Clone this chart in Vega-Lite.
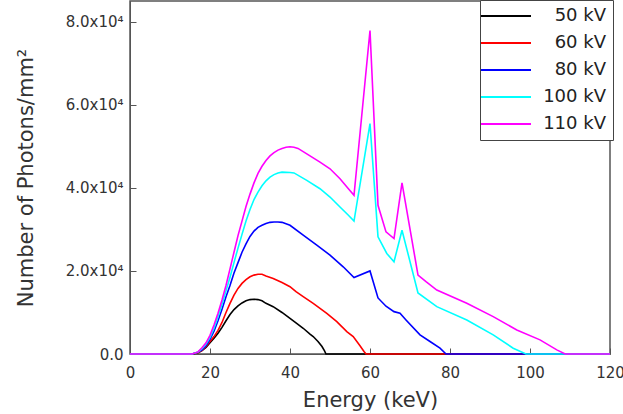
{
  "$schema": "https://vega.github.io/schema/vega-lite/v6.json",
  "width": 480,
  "height": 353,
  "autosize": "none",
  "padding": {"left": 130, "top": 1, "right": 13, "bottom": 60},
  "config": {
    "font": "DejaVu Sans",
    "view": {"stroke": "#555", "strokeWidth": 1.5},
    "axis": {"grid": false, "domainColor": "#555", "tickColor": "#555", "labelColor": "#333", "titleColor": "#333", "titleFontWeight": "normal", "labelFont": "DejaVu Sans", "titleFont": "DejaVu Sans"}
  },
  "data": {
    "values": [
      {"s":"50 kV","E":0,"N":0},{"s":"50 kV","E":15.5,"N":0},{"s":"50 kV","E":17,"N":300},{"s":"50 kV","E":18,"N":800},{"s":"50 kV","E":19,"N":1600},{"s":"50 kV","E":20,"N":2700},{"s":"50 kV","E":21,"N":3800},{"s":"50 kV","E":22,"N":5000},{"s":"50 kV","E":23,"N":6400},{"s":"50 kV","E":24,"N":8000},{"s":"50 kV","E":25,"N":9500},{"s":"50 kV","E":26,"N":10700},{"s":"50 kV","E":27,"N":11600},{"s":"50 kV","E":28,"N":12300},{"s":"50 kV","E":29,"N":12800},{"s":"50 kV","E":30,"N":13100},{"s":"50 kV","E":31,"N":13200},{"s":"50 kV","E":32,"N":13100},{"s":"50 kV","E":33,"N":12800},{"s":"50 kV","E":34,"N":12200},{"s":"50 kV","E":35.8,"N":11400},{"s":"50 kV","E":38,"N":10000},{"s":"50 kV","E":40,"N":8600},{"s":"50 kV","E":41.5,"N":7500},{"s":"50 kV","E":43.3,"N":6200},{"s":"50 kV","E":45,"N":4800},{"s":"50 kV","E":45.8,"N":4200},{"s":"50 kV","E":47,"N":3000},{"s":"50 kV","E":48,"N":1800},{"s":"50 kV","E":48.6,"N":800},{"s":"50 kV","E":49,"N":0},{"s":"50 kV","E":120,"N":0},
      {"s":"60 kV","E":0,"N":0},{"s":"60 kV","E":15.5,"N":0},{"s":"60 kV","E":17,"N":300},{"s":"60 kV","E":18,"N":900},{"s":"60 kV","E":19,"N":1800},{"s":"60 kV","E":20,"N":3000},{"s":"60 kV","E":21,"N":4200},{"s":"60 kV","E":22,"N":5700},{"s":"60 kV","E":23,"N":7600},{"s":"60 kV","E":24,"N":10000},{"s":"60 kV","E":25,"N":12200},{"s":"60 kV","E":26,"N":14200},{"s":"60 kV","E":27,"N":15800},{"s":"60 kV","E":28,"N":17000},{"s":"60 kV","E":29,"N":17900},{"s":"60 kV","E":30,"N":18600},{"s":"60 kV","E":31,"N":19000},{"s":"60 kV","E":32,"N":19200},{"s":"60 kV","E":33,"N":19200},{"s":"60 kV","E":34,"N":18800},{"s":"60 kV","E":35.8,"N":18200},{"s":"60 kV","E":38,"N":17200},{"s":"60 kV","E":40,"N":16200},{"s":"60 kV","E":41.5,"N":15000},{"s":"60 kV","E":43.3,"N":13800},{"s":"60 kV","E":45.8,"N":12200},{"s":"60 kV","E":47.5,"N":11000},{"s":"60 kV","E":49.2,"N":9800},{"s":"60 kV","E":51.7,"N":7800},{"s":"60 kV","E":54.2,"N":5400},{"s":"60 kV","E":55.8,"N":4200},{"s":"60 kV","E":57.5,"N":2000},{"s":"60 kV","E":58.5,"N":600},{"s":"60 kV","E":59,"N":0},{"s":"60 kV","E":120,"N":0},
      {"s":"80 kV","E":0,"N":0},{"s":"80 kV","E":15.5,"N":0},{"s":"80 kV","E":17,"N":400},{"s":"80 kV","E":18,"N":1000},{"s":"80 kV","E":19,"N":2000},{"s":"80 kV","E":20,"N":3500},{"s":"80 kV","E":21,"N":5500},{"s":"80 kV","E":22,"N":8000},{"s":"80 kV","E":23,"N":10800},{"s":"80 kV","E":24,"N":13800},{"s":"80 kV","E":25,"N":16500},{"s":"80 kV","E":26,"N":19500},{"s":"80 kV","E":27,"N":22000},{"s":"80 kV","E":28,"N":24500},{"s":"80 kV","E":29,"N":26500},{"s":"80 kV","E":30,"N":28300},{"s":"80 kV","E":31,"N":29600},{"s":"80 kV","E":32,"N":30500},{"s":"80 kV","E":33,"N":31000},{"s":"80 kV","E":34,"N":31400},{"s":"80 kV","E":35,"N":31700},{"s":"80 kV","E":36,"N":31800},{"s":"80 kV","E":37,"N":31800},{"s":"80 kV","E":38,"N":31700},{"s":"80 kV","E":40,"N":31000},{"s":"80 kV","E":43.3,"N":28600},{"s":"80 kV","E":46.7,"N":26200},{"s":"80 kV","E":50,"N":23800},{"s":"80 kV","E":53.3,"N":21000},{"s":"80 kV","E":56,"N":18400},{"s":"80 kV","E":60,"N":20000},{"s":"80 kV","E":62,"N":13500},{"s":"80 kV","E":64,"N":11500},{"s":"80 kV","E":66,"N":10200},{"s":"80 kV","E":67.5,"N":9800},{"s":"80 kV","E":69,"N":8200},{"s":"80 kV","E":72.5,"N":4600},{"s":"80 kV","E":75,"N":3000},{"s":"80 kV","E":77.5,"N":1400},{"s":"80 kV","E":79,"N":0},{"s":"80 kV","E":120,"N":0},
      {"s":"100 kV","E":0,"N":0},{"s":"100 kV","E":15.5,"N":0},{"s":"100 kV","E":17,"N":500},{"s":"100 kV","E":18,"N":1300},{"s":"100 kV","E":19,"N":2400},{"s":"100 kV","E":20,"N":4000},{"s":"100 kV","E":21,"N":6200},{"s":"100 kV","E":22,"N":9000},{"s":"100 kV","E":23,"N":12000},{"s":"100 kV","E":24,"N":15200},{"s":"100 kV","E":25,"N":18500},{"s":"100 kV","E":26,"N":22000},{"s":"100 kV","E":27,"N":25500},{"s":"100 kV","E":28,"N":28800},{"s":"100 kV","E":29,"N":32000},{"s":"100 kV","E":30,"N":34800},{"s":"100 kV","E":31,"N":37200},{"s":"100 kV","E":32,"N":39000},{"s":"100 kV","E":33,"N":40500},{"s":"100 kV","E":34,"N":41700},{"s":"100 kV","E":35,"N":42600},{"s":"100 kV","E":36,"N":43200},{"s":"100 kV","E":37,"N":43600},{"s":"100 kV","E":38,"N":43800},{"s":"100 kV","E":40,"N":43700},{"s":"100 kV","E":41,"N":43600},{"s":"100 kV","E":44.2,"N":41800},{"s":"100 kV","E":47.5,"N":39800},{"s":"100 kV","E":50,"N":37800},{"s":"100 kV","E":52.5,"N":35400},{"s":"100 kV","E":54.6,"N":33400},{"s":"100 kV","E":56,"N":32000},{"s":"100 kV","E":60,"N":55500},{"s":"100 kV","E":62,"N":28200},{"s":"100 kV","E":64.2,"N":24200},{"s":"100 kV","E":66,"N":22200},{"s":"100 kV","E":68,"N":29800},{"s":"100 kV","E":72,"N":14700},{"s":"100 kV","E":76.7,"N":11400},{"s":"100 kV","E":84.2,"N":8200},{"s":"100 kV","E":90.8,"N":4600},{"s":"100 kV","E":95.8,"N":1400},{"s":"100 kV","E":99,"N":0},{"s":"100 kV","E":120,"N":0},
      {"s":"110 kV","E":0,"N":0},{"s":"110 kV","E":15.5,"N":0},{"s":"110 kV","E":17,"N":500},{"s":"110 kV","E":18,"N":1500},{"s":"110 kV","E":19,"N":2700},{"s":"110 kV","E":20,"N":4500},{"s":"110 kV","E":21,"N":7000},{"s":"110 kV","E":22,"N":9800},{"s":"110 kV","E":23,"N":13000},{"s":"110 kV","E":24,"N":16500},{"s":"110 kV","E":25,"N":20500},{"s":"110 kV","E":26,"N":24500},{"s":"110 kV","E":27,"N":28500},{"s":"110 kV","E":28,"N":32000},{"s":"110 kV","E":29,"N":35500},{"s":"110 kV","E":30,"N":38500},{"s":"110 kV","E":31,"N":41200},{"s":"110 kV","E":32,"N":43500},{"s":"110 kV","E":33,"N":45200},{"s":"110 kV","E":34,"N":46600},{"s":"110 kV","E":35,"N":47700},{"s":"110 kV","E":36,"N":48500},{"s":"110 kV","E":37,"N":49100},{"s":"110 kV","E":38,"N":49500},{"s":"110 kV","E":39,"N":49800},{"s":"110 kV","E":40,"N":49900},{"s":"110 kV","E":41,"N":49800},{"s":"110 kV","E":42,"N":49500},{"s":"110 kV","E":44.2,"N":48200},{"s":"110 kV","E":47.5,"N":46200},{"s":"110 kV","E":50,"N":44600},{"s":"110 kV","E":52.5,"N":42200},{"s":"110 kV","E":54.6,"N":39800},{"s":"110 kV","E":56,"N":38200},{"s":"110 kV","E":60,"N":77900},{"s":"110 kV","E":62,"N":35800},{"s":"110 kV","E":64,"N":29400},{"s":"110 kV","E":66,"N":27800},{"s":"110 kV","E":68,"N":41200},{"s":"110 kV","E":72,"N":19000},{"s":"110 kV","E":74,"N":17400},{"s":"110 kV","E":76.7,"N":15400},{"s":"110 kV","E":84.2,"N":12200},{"s":"110 kV","E":90.8,"N":9000},{"s":"110 kV","E":96.7,"N":5800},{"s":"110 kV","E":102.5,"N":3400},{"s":"110 kV","E":106.7,"N":1000},{"s":"110 kV","E":108.8,"N":0},{"s":"110 kV","E":120,"N":0}
    ]
  },
  "mark": {"type": "line", "strokeWidth": 1.6},
  "encoding": {
    "x": {
      "field": "E", "type": "quantitative",
      "scale": {"domain": [0, 120], "nice": false, "zero": false},
      "axis": {"values": [0, 20, 40, 60, 80, 100, 120], "tickSize": -6, "labelPadding": 17, "labelFontSize": 15, "labelFlush": false, "title": "Energy (keV)", "titleFontSize": 21, "titlePadding": 9}
    },
    "y": {
      "field": "N", "type": "quantitative",
      "scale": {"domain": [0, 85000], "nice": false},
      "axis": {"values": [0, 20000, 40000, 60000, 80000], "tickSize": -6, "labelPadding": 13, "labelFontSize": 15, "labelExpr": "datum.value == 0 ? '0.0' : format(datum.value / 10000, '.1f') + 'x10\u2074'", "title": "Number of Photons/mm\u00b2", "titleFontSize": 21, "titlePadding": 29}
    },
    "color": {
      "field": "s", "type": "nominal",
      "scale": {"domain": ["50 kV", "60 kV", "80 kV", "100 kV", "110 kV"], "range": ["#000000", "#ff0000", "#0000ff", "#00ffff", "#ff00ff"]},
      "legend": {
        "orient": "none", "legendX": 350, "legendY": -1, "title": null,
        "symbolType": "M-5,0L5,0", "symbolSize": 100, "symbolStrokeWidth": 2, "symbolOffset": 10,
        "labelOffset": 91, "labelAlign": "right", "labelFontSize": 18, "labelColor": "#222", "labelFont": "DejaVu Sans",
        "rowPadding": 9, "padding": 7, "strokeColor": "#444", "fillColor": "white"
      }
    }
  }
}
